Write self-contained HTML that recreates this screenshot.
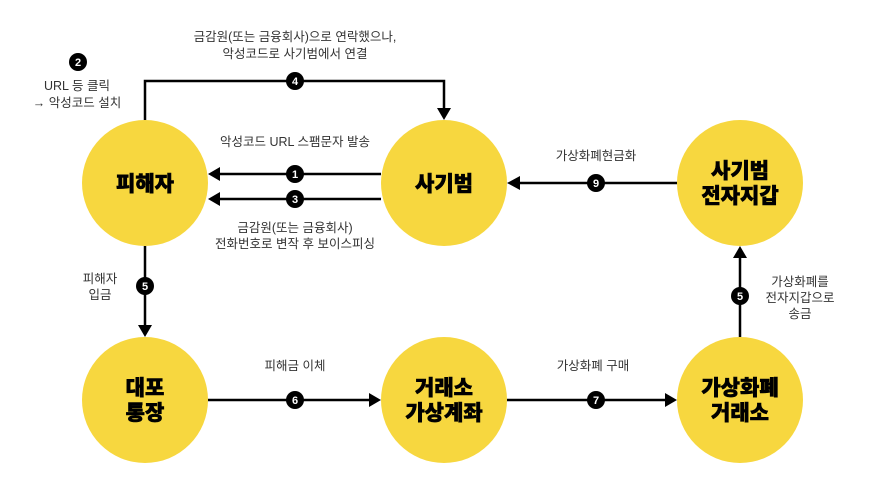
<!DOCTYPE html>
<html><head><meta charset="utf-8"><style>
html,body{margin:0;padding:0;background:#fff;}
svg{display:block;}
.l{font-family:"Liberation Sans","Noto Sans CJK KR",sans-serif;font-size:12.5px;fill:#333;text-anchor:middle;}
.n{font-family:"Liberation Sans","Noto Sans CJK KR",sans-serif;font-size:21px;font-weight:900;fill:#000;text-anchor:middle;stroke:#000;stroke-width:0.6px;}
.b{font-family:"Liberation Sans",sans-serif;font-size:11px;font-weight:bold;fill:#fff;text-anchor:middle;}
</style></head><body>
<svg width="885" height="492" viewBox="0 0 885 492" xmlns="http://www.w3.org/2000/svg">
<g fill="#F7D73F">
<circle cx="145" cy="183" r="63"/><circle cx="444" cy="183" r="63"/><circle cx="740" cy="183" r="63"/>
<circle cx="145" cy="400" r="63"/><circle cx="444" cy="400" r="63"/><circle cx="740" cy="400" r="63"/>
</g>
<g stroke="#000" stroke-width="2.5" fill="none">
<polyline points="145,120 145,81 444,81 444,108"/>
<line x1="220" y1="174" x2="381" y2="174"/>
<line x1="220" y1="199" x2="381" y2="199"/>
<line x1="520" y1="183" x2="677" y2="183"/>
<line x1="145" y1="246" x2="145" y2="325"/>
<line x1="208" y1="400" x2="370" y2="400"/>
<line x1="507" y1="400" x2="665" y2="400"/>
<line x1="740" y1="337" x2="740" y2="258"/>
</g>
<g fill="#000">
<polygon points="437,108 451,108 444,120"/>
<polygon points="208,174 220,167 220,181"/>
<polygon points="208,199 220,192 220,206"/>
<polygon points="507,183 520,176 520,190"/>
<polygon points="138,325 152,325 145,337"/>
<polygon points="381,400 369,393 369,407"/>
<polygon points="677,400 665,393 665,407"/>
<polygon points="733,258 747,258 740,246"/>
</g>
<g fill="#000">
<circle cx="78" cy="62" r="9"/><circle cx="295" cy="81" r="9"/><circle cx="295" cy="174" r="9"/><circle cx="295" cy="199" r="9"/>
<circle cx="596" cy="183" r="9"/><circle cx="145" cy="286" r="9"/><circle cx="295" cy="400" r="9"/><circle cx="596" cy="400" r="9"/><circle cx="740" cy="296" r="9"/>
</g>
<g class="b">
<text x="78" y="66">2</text><text x="295" y="85">4</text><text x="295" y="178">1</text><text x="295" y="203">3</text>
<text x="596" y="187">9</text><text x="145" y="290">5</text><text x="295" y="404">6</text><text x="596" y="404">7</text><text x="740" y="300">5</text>
</g>
<g class="l">
<text x="295" y="41">금감원(또는 금융회사)으로 연락했으나,</text>
<text x="295" y="58">악성코드로 사기범에서 연결</text>
<text x="77" y="90">URL 등 클릭</text>
<text x="77" y="107">→ 악성코드 설치</text>
<text x="295" y="146">악성코드 URL 스팸문자 발송</text>
<text x="295" y="232">금감원(또는 금융회사)</text>
<text x="295" y="248">전화번호로 변작 후 보이스피싱</text>
<text x="596" y="160">가상화폐현금화</text>
<text x="100" y="283">피해자</text>
<text x="100" y="299">입금</text>
<text x="295" y="370">피해금 이체</text>
<text x="593" y="370">가상화폐 구매</text>
<text x="800" y="286">가상화폐를</text>
<text x="800" y="302">전자지갑으로</text>
<text x="800" y="318">송금</text>
</g>
<g class="n">
<text x="145" y="191">피해자</text>
<text x="444" y="191">사기범</text>
<text x="740" y="178">사기범</text><text x="740" y="203">전자지갑</text>
<text x="145" y="395">대포</text><text x="145" y="420">통장</text>
<text x="444" y="395">거래소</text><text x="444" y="420">가상계좌</text>
<text x="740" y="395">가상화폐</text><text x="740" y="420">거래소</text>
</g>
</svg>
</body></html>
